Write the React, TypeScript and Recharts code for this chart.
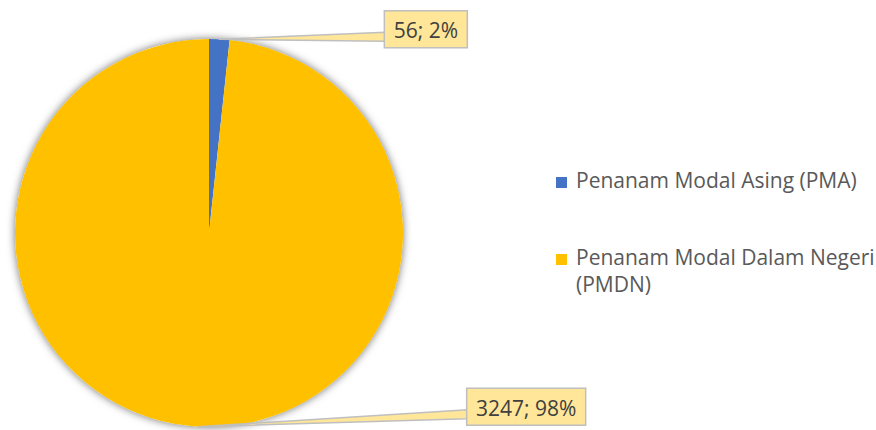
import { PieChart, Pie, Cell, Legend } from 'recharts';

const categories = ['Penanam Modal Asing (PMA)', 'Penanam Modal Dalam Negeri (PMDN)'];
const values = [56, 3247];
const colors = ['#4472C4', '#FFC000'];

const data = categories.map((name, i) => ({ name, value: values[i] }));
const total = values.reduce((a, b) => a + b, 0);
const backdrop = [{ name: 'total', value: total }];

// where each callout box sits relative to its slice's anchor point
const callouts = [
  { dx: 165, dy: -10, w: 83 },
  { dx: 268, dy: -20, w: 119 },
];

const FONT = '"Open Sans", sans-serif';
const RADIAN = Math.PI / 180;

function renderCallout(props: any) {
  const { cx, cy, midAngle, outerRadius, value, percent, index } = props;
  const ax = cx + outerRadius * Math.cos(-midAngle * RADIAN);
  const ay = cy + outerRadius * Math.sin(-midAngle * RADIAN);
  const c = callouts[index];
  const h = 37;
  const bx = ax + c.dx;
  const by = ay + c.dy - h / 2;
  const mid = ay + c.dy;
  return (
    <g key={`callout-${index}`}>
      <polygon
        points={`${ax},${ay} ${bx + 1},${mid + 3} ${bx + 1},${mid + 12}`}
        fill="#FFE699"
        stroke="#BFBFBF"
        strokeWidth={1.5}
        strokeLinejoin="round"
      />
      <rect x={bx} y={by} width={c.w} height={h} fill="#FFE699" stroke="#BFBFBF" strokeWidth={1.5} />
      <text
        x={bx + c.w / 2}
        y={mid + 1}
        textAnchor="middle"
        dominantBaseline="central"
        fontFamily={FONT}
        fontSize={21}
        fill="#404040"
      >
        {`${value}; ${Math.round(percent * 100)}%`}
      </text>
    </g>
  );
}

function renderLegend() {
  return (
    <div style={{ fontFamily: FONT, fontSize: 21, lineHeight: '27px', color: '#595959' }}>
      {categories.map((name, i) => (
        <div key={name} style={{ display: 'flex', alignItems: 'flex-start', marginBottom: 50 }}>
          <span
            style={{
              display: 'inline-block',
              width: 11,
              height: 11,
              marginTop: 10,
              marginLeft: 3,
              marginRight: 9,
              background: colors[i],
              flex: '0 0 auto',
            }}
          />
          <span style={{ width: 310, flex: '0 0 auto' }}>{name}</span>
        </div>
      ))}
    </div>
  );
}

export default function App() {
  return (
    <div style={{ position: 'absolute', left: 0, top: 0, width: 876, height: 430, background: '#fff', overflow: 'hidden' }}>
      <PieChart width={876} height={430} margin={{ top: 0, right: 0, bottom: 0, left: 0 }}>
        <Pie
          data={backdrop}
          dataKey="value"
          cx={209}
          cy={233}
          outerRadius={194}
          stroke="none"
          isAnimationActive={false}
          label={false}
          labelLine={false}
        >
          <Cell fill="#FFFFFF" style={{ filter: 'drop-shadow(0 0 4px rgba(0,0,0,0.55))' }} />
        </Pie>
        <Pie
          data={data}
          dataKey="value"
          nameKey="name"
          cx={209}
          cy={233}
          outerRadius={194}
          startAngle={90}
          endAngle={-270}
          stroke="none"
          isAnimationActive={false}
          label={renderCallout}
          labelLine={false}
        >
          {data.map((d, i) => (
            <Cell key={d.name} fill={colors[i]} />
          ))}
        </Pie>
        <Legend
          content={renderLegend}
          layout="vertical"
          wrapperStyle={{ position: 'absolute', left: 553, top: 167, width: 340 }}
        />
      </PieChart>
    </div>
  );
}
